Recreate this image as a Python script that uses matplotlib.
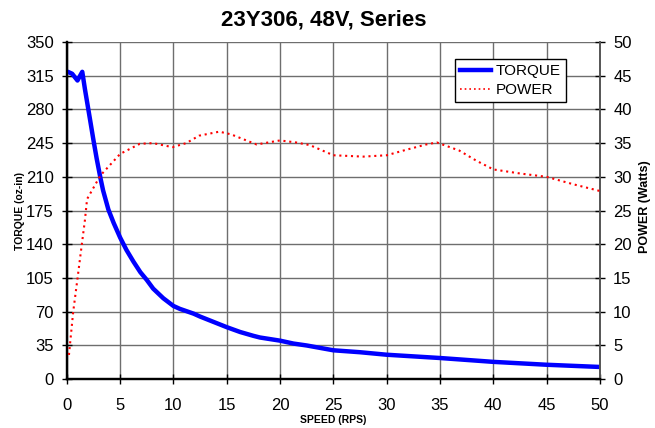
import matplotlib
matplotlib.use("Agg")
import matplotlib.pyplot as plt
from matplotlib.lines import Line2D

plt.rcParams['font.family'] = ['Liberation Sans', 'DejaVu Sans']

title = "23Y306, 48V, Series"

torque_speed = [0.1, 0.5, 1.0, 1.45, 1.7, 2.2, 2.5, 2.8, 3.15, 3.4, 3.9, 4.4, 5.0,
                5.6, 6.25, 6.9, 7.5, 8.1, 9.05, 10, 10.6, 11.9, 12.5, 13.75, 15,
                16.25, 17.5, 18.1, 20, 21.25, 22.5, 25, 27.5, 30, 35, 40, 45, 50]
torque_vals = [319, 317, 310, 319, 301, 268, 248, 229, 209, 196, 176, 162, 147,
               134, 122, 111, 103, 94, 84, 76, 73, 68, 65, 59.5, 54,
               49, 45, 43.3, 40, 37, 35, 30, 28, 25.4, 22, 18, 15, 12.7]

power_speed = [0.2, 0.6, 1.0, 1.4, 1.7, 1.9, 3.15, 5, 6.85, 8.1, 9.9, 11.2, 12.4,
               14.3, 15.4, 17.8, 20, 21.5, 22.8, 25, 27.8, 30, 31.8, 33.7, 34.7,
               36.8, 38.4, 40, 42.5, 45, 47.5, 50]
power_vals = [3.6, 10, 14.9, 19.9, 23.6, 26.7, 30.2, 33.4, 34.9, 35.0, 34.4, 35.0, 36.1,
              36.7, 36.3, 34.8, 35.4, 35.1, 34.7, 33.2, 33.0, 33.2, 34.0, 34.8, 35.1,
              33.9, 32.4, 31.1, 30.5, 30.0, 28.9, 27.9]

x_ticks = list(range(0, 51, 5))
torque_ticks = list(range(0, 351, 35))
power_ticks = list(range(0, 51, 5))

fig = plt.figure(figsize=(6.55, 4.28), dpi=100)
ax = fig.add_axes([0.102, 0.114, 0.814, 0.788])
ax2 = ax.twinx()

ax.plot(torque_speed, torque_vals, color='#0000FF', lw=3.2, solid_joinstyle='round',
        solid_capstyle='round', zorder=3)
ax2.plot(power_speed, power_vals, color='#FF0000', lw=1.5, linestyle=(0, (1, 1.8)), zorder=3)

ax.set_xlim(0, 50)
ax.set_ylim(0, 350)
ax2.set_ylim(0, 50)
ax.set_xticks(x_ticks)
ax.set_yticks(torque_ticks)
ax2.set_yticks(power_ticks)

ax.grid(True, color='#6e6e6e', lw=1.0, zorder=0)
ax.set_axisbelow(True)

for a in (ax, ax2):
    a.tick_params(direction='inout', length=7, width=1, labelsize=12, colors='black', pad=6)
    a.spines['top'].set_visible(False)
ax.tick_params(axis='x', pad=10)
ax.spines['left'].set_linewidth(1.6)
ax.spines['bottom'].set_linewidth(1.6)
ax2.spines['left'].set_linewidth(1.6)
ax2.spines['bottom'].set_linewidth(1.6)
ax2.spines['right'].set_color('#555555')
ax2.spines['right'].set_linewidth(1.4)
ax.spines['right'].set_visible(False)

fig.text(0.495, 1 - 20 / 428, title, ha='center', va='center', fontsize=16, fontweight='bold')
fig.text(333 / 655, 1 - 420 / 428, "SPEED (RPS)", ha='center', va='center', fontsize=7.5,
         fontweight='bold')
fig.text(20 / 655, 0.5 * (0.114 + 0.902), "TORQUE (oz-in)", ha='center', va='center',
         rotation=90, fontsize=7.5, fontweight='bold')
fig.text(645 / 655, 0.5 * (0.114 + 0.902) + 0.01, "POWER (Watts)", ha='center', va='center',
         rotation=90, fontsize=9, fontweight='bold')

handles = [Line2D([], [], color='#0000FF', lw=3.2),
           Line2D([], [], color='#FF0000', lw=1.2, linestyle=(0, (1, 1.8)))]
leg = ax2.legend(handles, ["TORQUE", "POWER"], loc='upper left',
                 bbox_to_anchor=(455 / 655, 1 - 59 / 428), bbox_transform=fig.transFigure,
                 borderaxespad=0, fancybox=False, framealpha=1, edgecolor='black',
                 fontsize=11, handlelength=2.0, handletextpad=0.3, borderpad=0.35,
                 labelspacing=0.3)
leg.get_frame().set_linewidth(1.0)

fig.savefig("out.png", dpi=100)
